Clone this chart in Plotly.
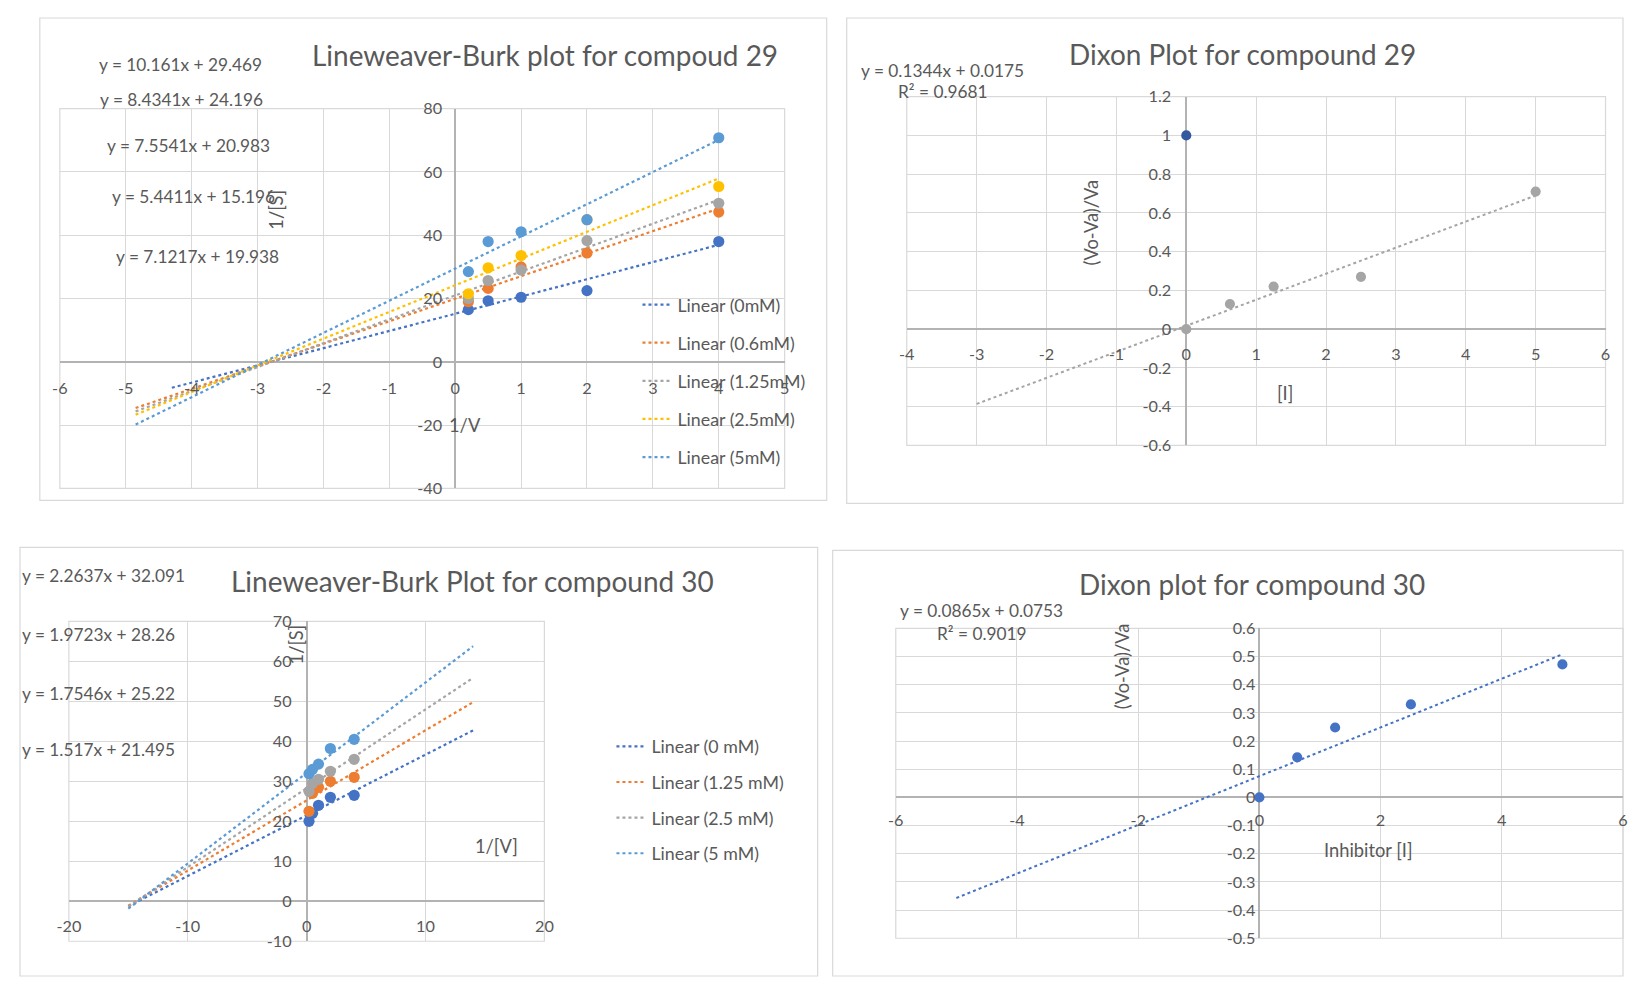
import numpy as np
import plotly.graph_objects as go

# page is 1640x993; the html body keeps its default 8px margin, so the figure
# is made 16px smaller.  The photographed picture was observed to map page
# pixels p -> A + S*p, so positions are pre-compensated for that mapping.
PAGE_W, PAGE_H = 1640, 993
OFF = 8
W, H = PAGE_W - 2 * OFF, PAGE_H - 2 * OFF
AX, SX = 11.3, 0.986
AY, SY = 11.5, 0.981
SC = 1 / 0.984  # size compensation

# ---------------- DATA ----------------
# Lineweaver-Burk, compound 29
lb29_x = [0.2, 0.5, 1, 2, 4]
lb29_names = ["0mM", "0.6mM", "1.25mM", "2.5mM", "5mM"]
lb29_y_0mM = [16.5, 19.3, 20.4, 22.5, 38.0]
lb29_y_06mM = [19.0, 23.2, 30.0, 34.4, 47.3]
lb29_y_125mM = [20.0, 25.7, 29.0, 38.3, 50.1]
lb29_y_25mM = [21.5, 29.7, 33.6, 44.9, 55.4]
lb29_y_5mM = [28.5, 38.0, 41.1, 44.9, 70.8]
lb29_slopes = [5.4411, 7.1217, 7.5541, 8.4341, 10.161]
lb29_intercepts = [15.196, 19.938, 20.983, 24.196, 29.469]
lb29_trend_start = [-4.3, -4.85, -4.85, -4.85, -4.85]
lb29_trend_end = [4, 4, 4, 4, 4]

# Dixon, compound 29
d29_x = [0, 0.625, 1.25, 2.5, 5]
d29_y = [0, 0.13, 0.22, 0.27, 0.71]
d29_ref_x = [0]
d29_ref_y = [1]
d29_slope, d29_intercept, d29_r2 = 0.1344, 0.0175, 0.9681
d29_trend_range = [-3, 5]

# Lineweaver-Burk, compound 30
lb30_x = [0.2, 0.5, 1, 2, 4]
lb30_names = ["0 mM", "1.25 mM", "2.5 mM", "5 mM"]
lb30_y_0mM = [20.0, 22.0, 24.0, 26.0, 26.5]
lb30_y_125mM = [22.5, 27.0, 28.5, 30.0, 31.0]
lb30_y_25mM = [27.5, 29.5, 30.5, 32.5, 35.5]
lb30_y_5mM = [31.9, 33.0, 34.3, 38.2, 40.5]
lb30_slopes = [1.517, 1.7546, 1.9723, 2.2637]
lb30_intercepts = [21.495, 25.22, 28.26, 32.091]
lb30_trend_range = [-15, 14]

# Dixon, compound 30
d30_x = [0, 0.625, 1.25, 2.5, 5]
d30_y = [0, 0.142, 0.248, 0.33, 0.472]
d30_slope, d30_intercept, d30_r2 = 0.0865, 0.0753, 0.9019
d30_trend_range = [-5, 5]

# ---------------- STYLE ----------------
FONT = "Lato, 'Liberation Sans', sans-serif"
TXT = "#595959"
GRID = "#D9D9D9"
ZERO = "#B3B3B3"
C_DBLUE = "#4472C4"
C_ORANGE = "#ED7D31"
C_GRAY = "#A5A5A5"
C_GOLD = "#FFC000"
C_LBLUE = "#5B9BD5"
C_NAVY = "#34589E"


def px(x):
    x = (x - AX) / SX
    return min(max((x - OFF) / W, 0.0), 1.0)


def py(y):
    y = (y - AY) / SY
    return min(max(1 - (y - OFF) / H, 0.0), 1.0)


fig = go.Figure()
layout = {}
shapes = []


def fmt(v):
    return "0" if abs(v) < 1e-9 else f"{v:g}"


def add_panel(n, xpix, ypix, xr, yr, xd, yd, xso, yso):
    xdom = [px(xpix[0]), px(xpix[1])]
    ydom = [py(ypix[1]), py(ypix[0])]
    xpos = ydom[0] + (0 - yr[0]) / (yr[1] - yr[0]) * (ydom[1] - ydom[0])
    ypos = xdom[0] + (0 - xr[0]) / (xr[1] - xr[0]) * (xdom[1] - xdom[0])
    xt = np.round(np.arange(xr[0], xr[1] + xd / 2, xd), 6)
    yt = np.round(np.arange(yr[0], yr[1] + yd / 2, yd), 6)
    sfx = "" if n == 1 else str(n)
    common = dict(showgrid=True, gridcolor=GRID, gridwidth=1, zeroline=True,
                  zerolinecolor=ZERO, zerolinewidth=1.5, showline=False, ticks="",
                  tickfont=dict(family=FONT, size=16 * SC, color=TXT), fixedrange=True)
    layout["xaxis" + sfx] = dict(domain=xdom, range=list(xr), anchor="free", position=xpos,
                                 tickvals=list(xt), ticktext=[fmt(v) for v in xt],
                                 ticklabelstandoff=xso, **common)
    layout["yaxis" + sfx] = dict(domain=ydom, range=list(yr), anchor="free", position=ypos,
                                 tickvals=list(yt), ticktext=[fmt(v) for v in yt],
                                 ticklabelstandoff=yso, **common)
    shapes.append(dict(type="rect", xref="paper", yref="paper", x0=xdom[0], x1=xdom[1],
                       y0=ydom[0], y1=ydom[1], line=dict(color=GRID, width=1.2), layer="below"))
    return "x" + sfx, "y" + sfx


# panels (target picture pixels)
ax_tl = add_panel(1, (59, 783), (110, 490), (-6, 5), (-40, 80), 1, 20, 15, 13)
ax_tr = add_panel(2, (905, 1603), (98, 447), (-4, 6), (-0.6, 1.2), 1, 0.2, 14, 15)
ax_bl = add_panel(3, (68, 543), (623, 943), (-20, 20), (-10, 70), 10, 10, 13, 15)
ax_br = add_panel(4, (894, 1636), (630, 940), (-6, 6), (-0.5, 0.6), 2, 0.1, 11, 4)

MS = 11 * SC
MS2 = 10 * SC

# ---- LB 29
lb29_series = [lb29_y_0mM, lb29_y_06mM, lb29_y_125mM, lb29_y_25mM, lb29_y_5mM]
lb29_colors = [C_DBLUE, C_ORANGE, C_GRAY, C_GOLD, C_LBLUE]
for i, (name, ys, col) in enumerate(zip(lb29_names, lb29_series, lb29_colors)):
    tx = np.array([lb29_trend_start[i], lb29_trend_end[i]])
    fig.add_trace(go.Scatter(x=tx, y=lb29_slopes[i] * tx + lb29_intercepts[i], mode="lines",
                             line=dict(color=col, width=2.2, dash="dot"),
                             name=f"Linear ({name})", legend="legend", legendgroup=f"a{i}",
                             xaxis=ax_tl[0], yaxis=ax_tl[1], hoverinfo="skip"))
for i, (name, ys, col) in enumerate(zip(lb29_names, lb29_series, lb29_colors)):
    fig.add_trace(go.Scatter(x=lb29_x, y=ys, mode="markers", marker=dict(color=col, size=MS),
                             name=name, showlegend=False, xaxis=ax_tl[0], yaxis=ax_tl[1]))

# ---- Dixon 29
tx = np.array(d29_trend_range, dtype=float)
fig.add_trace(go.Scatter(x=tx, y=d29_slope * tx + d29_intercept, mode="lines",
                         line=dict(color=C_GRAY, width=2, dash="dot"), showlegend=False,
                         xaxis=ax_tr[0], yaxis=ax_tr[1], hoverinfo="skip"))
fig.add_trace(go.Scatter(x=d29_ref_x, y=d29_ref_y, mode="markers",
                         marker=dict(color=C_NAVY, size=MS2), showlegend=False,
                         xaxis=ax_tr[0], yaxis=ax_tr[1]))
fig.add_trace(go.Scatter(x=d29_x, y=d29_y, mode="markers",
                         marker=dict(color=C_GRAY, size=MS2), showlegend=False,
                         xaxis=ax_tr[0], yaxis=ax_tr[1]))

# ---- LB 30
lb30_series = [lb30_y_0mM, lb30_y_125mM, lb30_y_25mM, lb30_y_5mM]
lb30_colors = [C_DBLUE, C_ORANGE, C_GRAY, C_LBLUE]
tx = np.array(lb30_trend_range, dtype=float)
for i, (name, ys, col) in enumerate(zip(lb30_names, lb30_series, lb30_colors)):
    fig.add_trace(go.Scatter(x=tx, y=lb30_slopes[i] * tx + lb30_intercepts[i], mode="lines",
                             line=dict(color=col, width=2.2, dash="dot"),
                             name=f"Linear ({name})", legend="legend2", legendgroup=f"b{i}",
                             xaxis=ax_bl[0], yaxis=ax_bl[1], hoverinfo="skip"))
for i, (name, ys, col) in enumerate(zip(lb30_names, lb30_series, lb30_colors)):
    fig.add_trace(go.Scatter(x=lb30_x, y=ys, mode="markers", marker=dict(color=col, size=MS),
                             name=name, showlegend=False, xaxis=ax_bl[0], yaxis=ax_bl[1]))

# ---- Dixon 30
tx = np.array(d30_trend_range, dtype=float)
fig.add_trace(go.Scatter(x=tx, y=d30_slope * tx + d30_intercept, mode="lines",
                         line=dict(color=C_DBLUE, width=2, dash="dot"), showlegend=False,
                         xaxis=ax_br[0], yaxis=ax_br[1], hoverinfo="skip"))
fig.add_trace(go.Scatter(x=d30_x, y=d30_y, mode="markers",
                         marker=dict(color=C_DBLUE, size=MS2), showlegend=False,
                         xaxis=ax_br[0], yaxis=ax_br[1]))

# ---------------- ANNOTATIONS ----------------
ann = []


def txt(x, y, s, size=17, anchor="left", angle=0, color=TXT):
    ann.append(dict(x=px(x), y=py(y), xref="paper", yref="paper", text=s, showarrow=False,
                    xanchor=anchor, yanchor="middle", textangle=angle,
                    font=dict(family=FONT, size=size * SC, color=color)))


def eq(s, b):
    return f"y = {s:g}x + {b:g}"


# titles
txt(544, 56, "Lineweaver-Burk plot for compoud 29", size=27.5, anchor="center")
txt(1240, 55, "Dixon Plot for compound 29", size=27.5, anchor="center")
txt(471, 583, "Lineweaver-Burk Plot for compound 30", size=27.5, anchor="center")
txt(1250, 586, "Dixon plot for compound 30", size=27.5, anchor="center")

# LB29 equations (5mM, 2.5mM, 1.25mM, 0mM, 0.6mM)
eq_pos_tl = [(96, 66, 4), (97, 101, 3), (104, 147, 2), (109, 198, 0), (113, 258, 1)]
for x, y, k in eq_pos_tl:
    txt(x, y, eq(lb29_slopes[k], lb29_intercepts[k]))

# LB30 equations (5, 2.5, 1.25, 0 mM)
eq_pos_bl = [(13, 577, 3), (13, 636, 2), (13, 695, 1), (13, 751, 0)]
for x, y, k in eq_pos_bl:
    txt(x, y, eq(lb30_slopes[k], lb30_intercepts[k]))

# Dixon equations
txt(857, 72, eq(d29_slope, d29_intercept))
txt(894, 93, f"R² = {d29_r2:g}")
txt(896, 612, eq(d30_slope, d30_intercept))
txt(933, 635, f"R² = {d30_r2:g}")

# axis titles
txt(274, 211, "1/[S]", size=18, anchor="center", angle=-90)
txt(464, 427, "1/V", size=18, anchor="center")
txt(1089, 224, "(Vo-Va)/Va", size=18, anchor="center", angle=-90)
txt(1283, 395, "[I]", size=18, anchor="center")
txt(295, 646, "1/[S]", size=18, anchor="center", angle=-90)
txt(495, 848, "1/[V]", size=18, anchor="center")
txt(1120, 668, "(Vo-Va)/Va", size=18, anchor="center", angle=-90)
txt(1366, 852, "Inhibitor [I]", size=18, anchor="center")

# chart frames (target picture pixels)
frames = [(39, 16, 825, 502), (845, 16, 1632, 505), (5, 549, 816, 991), (831, 552, 1639, 991)]
shapes += [dict(type="rect", xref="paper", yref="paper", x0=px(a), x1=px(c),
                y0=py(d), y1=py(b), line=dict(color=GRID, width=1.2), layer="below")
           for a, b, c, d in frames]

fig.update_layout(
    width=W, height=H, autosize=False,
    margin=dict(l=0, r=0, t=0, b=0),
    paper_bgcolor="white", plot_bgcolor="white",
    font=dict(family=FONT, color=TXT),
    annotations=ann, shapes=shapes, showlegend=True,
    legend=dict(x=px(636), y=py(288), xanchor="left", yanchor="top",
                bgcolor="rgba(0,0,0,0)", font=dict(family=FONT, size=17.5 * SC, color=TXT),
                tracegroupgap=12, traceorder="grouped", itemwidth=30),
    legend2=dict(x=px(610), y=py(730), xanchor="left", yanchor="top",
                 bgcolor="rgba(0,0,0,0)", font=dict(family=FONT, size=17.5 * SC, color=TXT),
                 tracegroupgap=9.5, traceorder="grouped", itemwidth=30),
    **layout,
)

fig.write_html("out.html", config={"displayModeBar": False})
